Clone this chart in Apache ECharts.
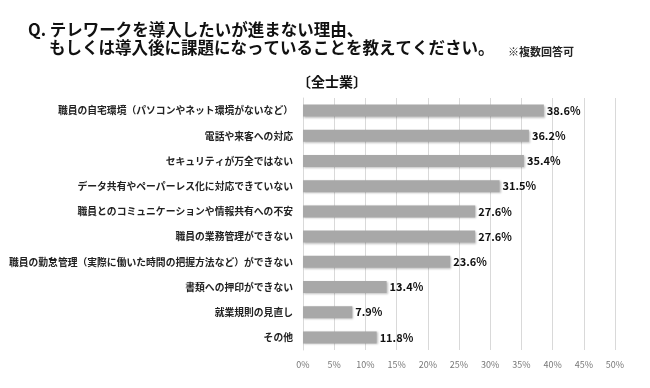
<!DOCTYPE html>
<html><head><meta charset="utf-8">
<script src="https://cdn.jsdelivr.net/npm/echarts@6/dist/echarts.min.js"></script>
<style>html,body{margin:0;padding:0;background:#fff}#c{width:650px;height:388px}</style>
</head><body><div id="c"></div>
<script>
const categories = [
  "職員の自宅環境（パソコンやネット環境がないなど）",
  "電話や来客への対応",
  "セキュリティが万全ではない",
  "データ共有やペーパーレス化に対応できていない",
  "職員とのコミュニケーションや情報共有への不安",
  "職員の業務管理ができない",
  "職員の勤怠管理（実際に働いた時間の把握方法など）ができない",
  "書類への押印ができない",
  "就業規則の見直し",
  "その他"
];
const values = [38.6, 36.2, 35.4, 31.5, 27.6, 27.6, 23.6, 13.4, 7.9, 11.8];
const titleLine1 = "Q. テレワークを導入したいが進まない理由、";
const titleLine2 = "もしくは導入後に課題になっていることを教えてください。";
const note = "※複数回答可";
const subtitle = "〔全士業〕";

const font = '"Noto Sans CJK JP", "Noto Sans", sans-serif';
const chart = echarts.init(document.getElementById('c'));
chart.setOption({
  animation: false,
  textStyle: { fontFamily: font },
  graphic: [
    { type: 'text', left: 28, top: 21, style: { text: titleLine1, font: 'bold 16.5px ' + font, fill: '#111' } },
    { type: 'text', left: 49, top: 39, style: { text: titleLine2, font: 'bold 16.5px ' + font, fill: '#111' } },
    { type: 'text', left: 508, top: 46, style: { text: note, font: 'bold 11px ' + font, fill: '#222' } },
    { type: 'text', left: 297, top: 75, style: { text: subtitle, font: 'bold 14px ' + font, fill: '#111' } }
  ],
  grid: { left: 303, right: 35, top: 98, bottom: 38 },
  xAxis: {
    type: 'value', min: 0, max: 50, interval: 5,
    axisLabel: { formatter: '{value}%', color: '#777', fontSize: 9, margin: 10 },
    splitLine: { lineStyle: { color: '#d9d9d9' } },
    axisLine: { show: false }, axisTick: { show: false }
  },
  yAxis: {
    type: 'category', data: categories, inverse: true,
    axisLabel: { color: '#222', fontSize: 9.8, fontWeight: 'bold', margin: 10 },
    axisLine: { show: true, lineStyle: { color: '#d9d9d9' } },
    axisTick: { show: false }
  },
  series: [{
    type: 'bar', data: values, barWidth: 12,
    itemStyle: { color: '#a8a8a8', shadowColor: 'rgba(0,0,0,0.25)', shadowBlur: 2, shadowOffsetX: 1, shadowOffsetY: 1 },
    label: { show: true, position: 'right', distance: 3, formatter: p => p.value.toFixed(1) + '%', color: '#111', fontWeight: 'bold', fontSize: 11 }
  }]
});
</script></body></html>
